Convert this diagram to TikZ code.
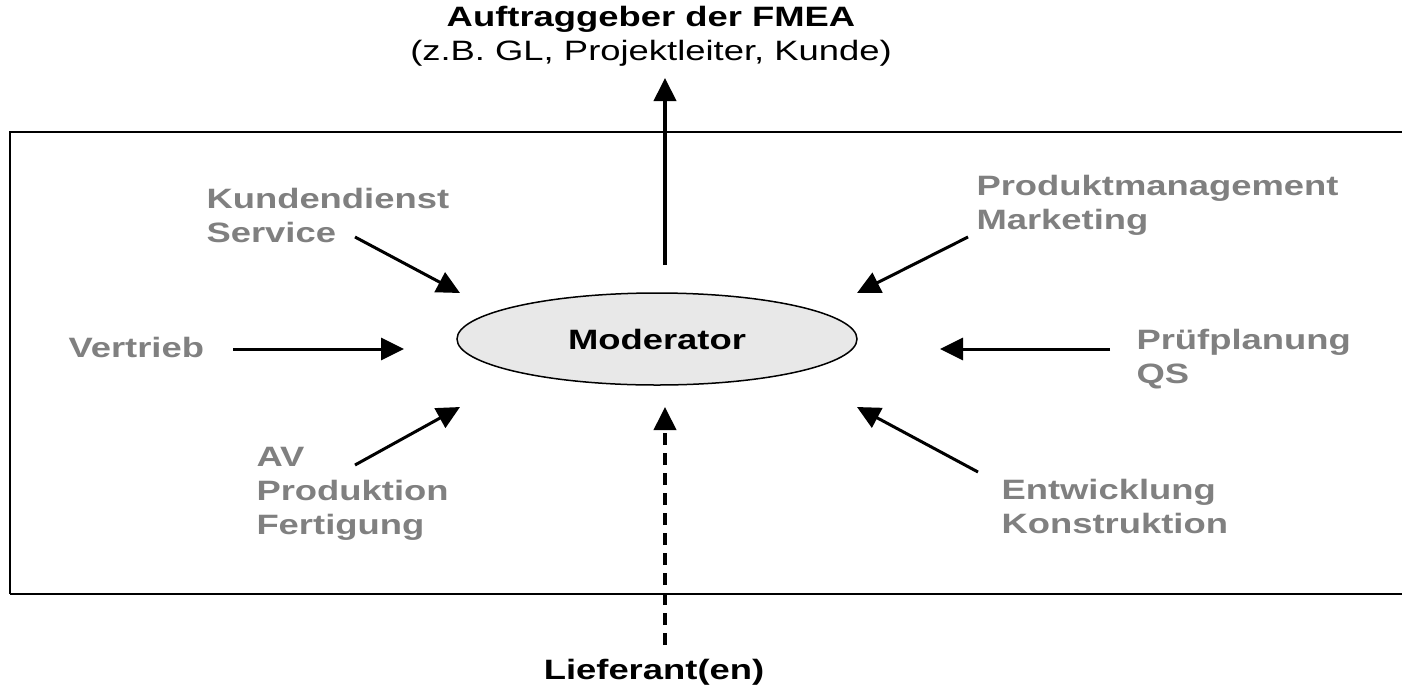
\documentclass[tikz,border=0pt]{standalone}
\usepackage{fontspec}
\setmainfont[FakeStretch=1.3]{Liberation Sans}
\usepackage{tikz}
\usetikzlibrary{arrows.meta}
\usetikzlibrary{shapes.geometric}

\definecolor{labelgray}{RGB}{128,128,128}
\definecolor{modfill}{RGB}{232,232,232}

\begin{document}
\begin{tikzpicture}[x=1pt, y=-1pt, -{Triangle[length=23pt,width=22pt]}, line width=3pt,
        font=\fontsize{28}{34}\selectfont\bfseries,
        group/.style={text=labelgray, align=left, anchor=west, inner sep=0pt},
        moderator/.style={ellipse, draw, line width=1.5pt, fill=modfill, minimum width=400pt, minimum height=92pt, inner sep=0pt}]
        \useasboundingbox (0,0) rectangle (1402,689);

        % team frame, open on the right
        \draw[-, line width=2.5pt] (1402,132) -- (10,132) -- (10,594);
        \draw[-, line width=2pt] (10,594) -- (1402,594);

        \node[moderator] (mod) at (657,339) {Moderator};
        \node[align=center, inner sep=0pt] (auf) at (651,36) {Auftraggeber der FMEA\\{\mdseries (z.B. GL, Projektleiter, Kunde)}};
        \node[inner sep=0pt] (lief) at (654,672) {Lieferant(en)};

        \node[group] (kd) at (205,215) {Kundendienst\\Service};
        \node[group] (pm) at (975,205) {Produktmanagement\\Marketing};
        \node[group] (vt) at (67,347) {Vertrieb};
        \node[group] (pp) at (1135,359) {Prüfplanung\\QS};
        \node[group] (av) at (255,494) {AV\\Produktion\\Fertigung};
        \node[group] (ew) at (1000,506) {Entwicklung\\Konstruktion};

        \coordinate (up-s) at (665,265);   \coordinate (up-e) at (665,78);
        \coordinate (lf-s) at (665,645);   \coordinate (lf-e) at (665,407);
        \coordinate (kd-s) at (355,237);   \coordinate (kd-e) at (460,293);
        \coordinate (pm-s) at (968,237);   \coordinate (pm-e) at (857,293);
        \coordinate (vt-s) at (233,349);   \coordinate (vt-e) at (404,349);
        \coordinate (pp-s) at (1110,349);  \coordinate (pp-e) at (940,349);
        \coordinate (av-s) at (355,465);   \coordinate (av-e) at (460,407);
        \coordinate (ew-s) at (978,472);   \coordinate (ew-e) at (857,407);

        \path (up-s) edge[line width=4pt] (up-e)
              (lf-s) edge[line width=4pt, dash pattern=on 12pt off 8pt] (lf-e)
              (kd-s) edge (kd-e)
              (pm-s) edge (pm-e)
              (vt-s) edge (vt-e)
              (pp-s) edge (pp-e)
              (av-s) edge (av-e)
              (ew-s) edge (ew-e);
    \end{tikzpicture}
\end{document}
